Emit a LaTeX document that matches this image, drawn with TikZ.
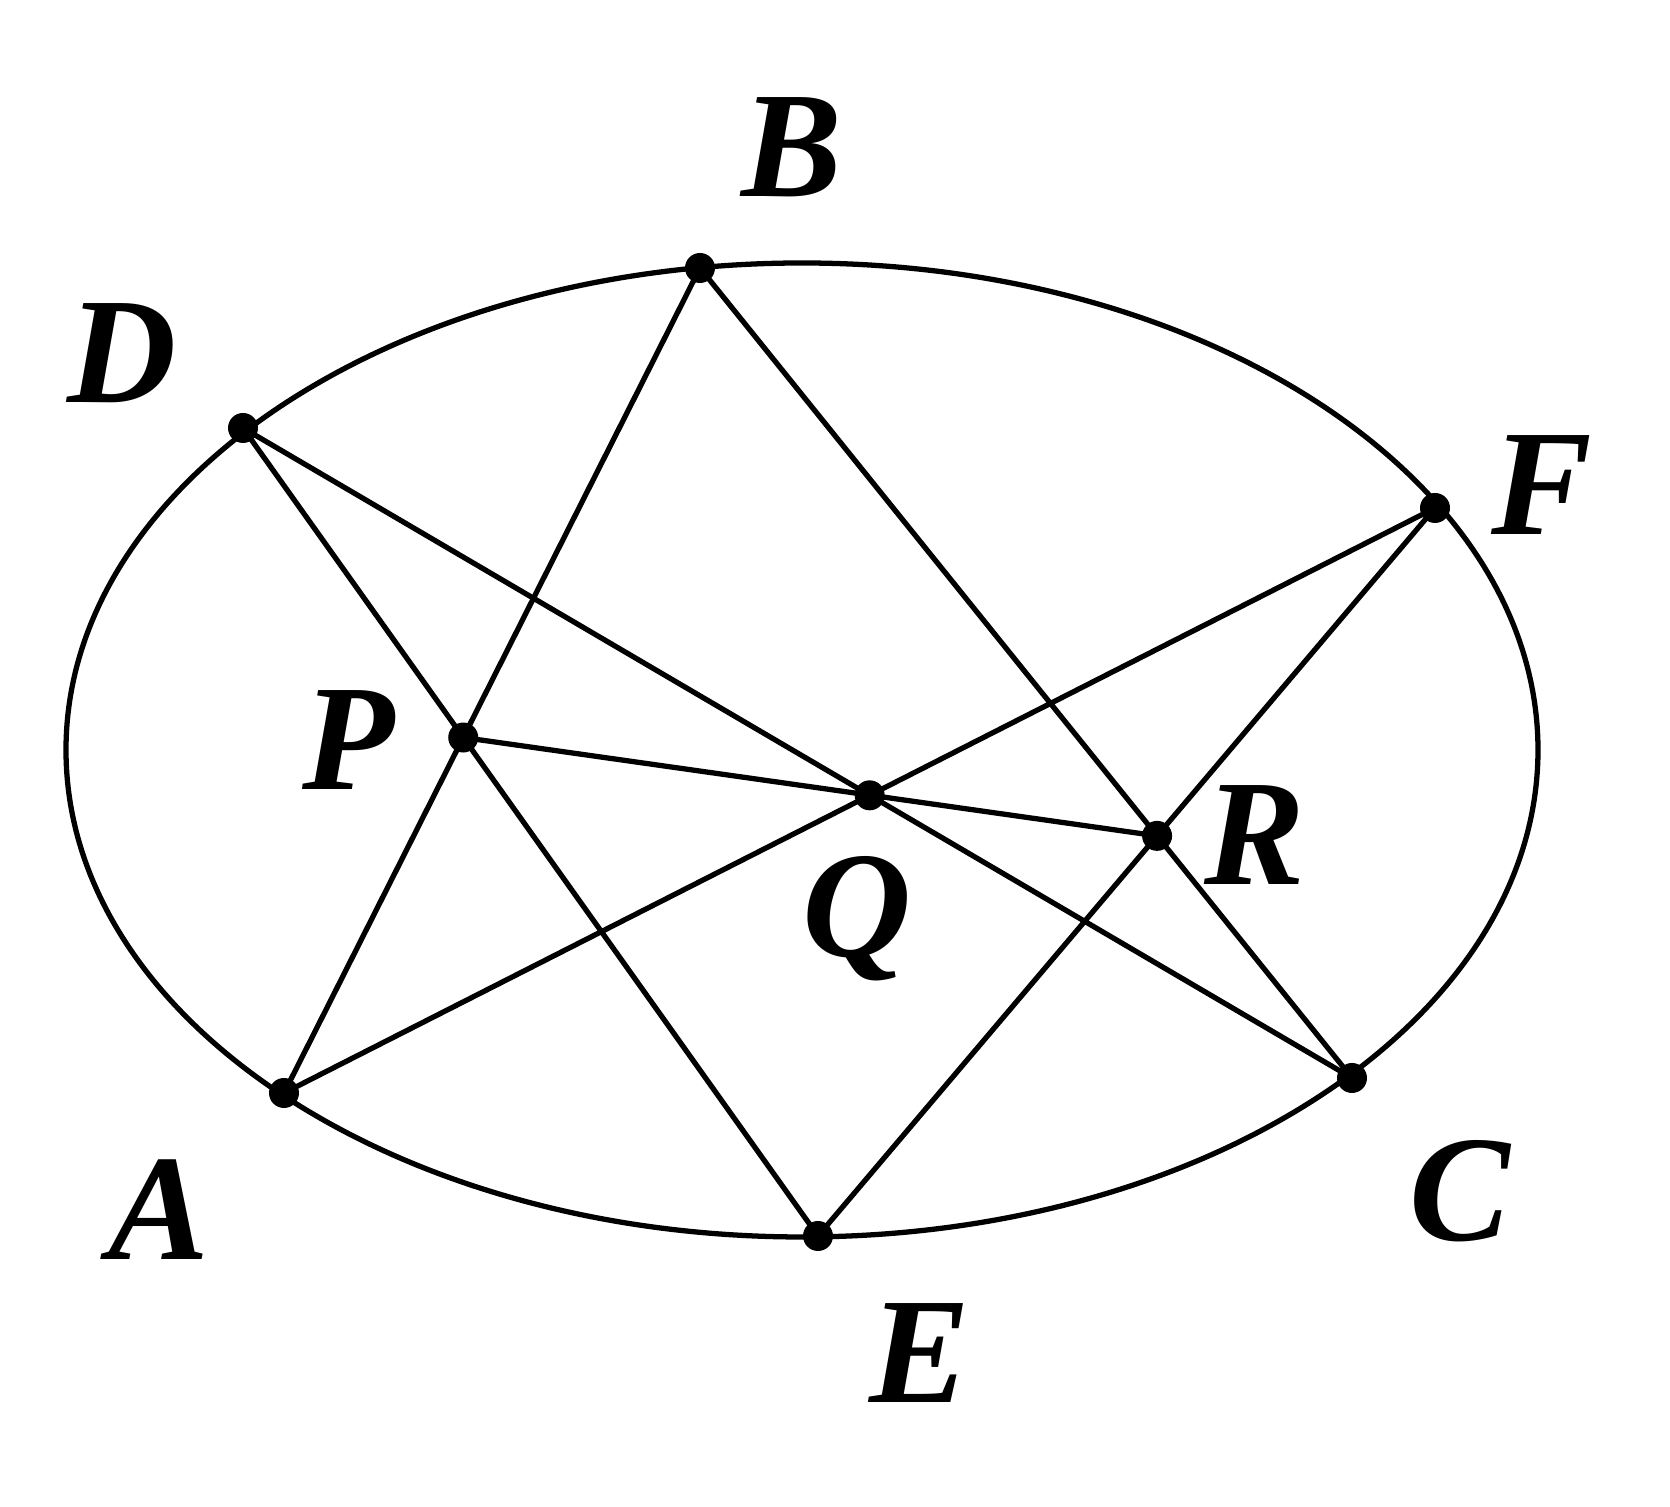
\documentclass[tikz,border=0pt]{standalone}
\usepackage{fontspec}
\setmainfont{Liberation Serif}
\usepackage{tikz}

\tikzset{
    curve/.style={line width=1.5pt},
    chord/.style={line width=1.5pt},
    dot/.style={fill=black},
    lbl/.style={anchor=base, inner sep=0pt, font=\fontsize{43}{43}\selectfont\bfseries\itshape}
}

\begin{document}
\begin{tikzpicture}
            \useasboundingbox (0,0) rectangle (16.70,15.07);
            \draw[curve] (8.02,7.57) ellipse [x radius=7.36, y radius=4.87];

            \coordinate (B) at (7.00,12.39);
            \coordinate (D) at (2.43,10.79);
            \coordinate (F) at (14.35,9.99);
            \coordinate (A) at (2.84,4.14);
            \coordinate (C) at (13.52,4.29);
            \coordinate (E) at (8.18,2.71);
            \coordinate (P) at (intersection of A--B and D--E);
            \coordinate (Q) at (intersection of D--C and A--F);
            \coordinate (R) at (intersection of B--C and E--F);

            \draw[chord] (A) -- (B) -- (C);
            \draw[chord] (D) -- (E) -- (F) -- (A);
            \draw[chord] (D) -- (C);
            \draw[chord] (P) -- (R);

            \foreach \p in {A,B,C,D,E,F,P,Q,R}
                \fill[dot] (\p) circle (0.15);

            \node[lbl] (lB) at (7.92,13.10) {B};
            \node[lbl] (lD) at (1.22,11.04) {D};
            \node[lbl] (lF) at (15.42,9.72) {F};
            \node[lbl] (lP) at (3.49,7.17) {P};
            \node[lbl] (lQ) at (8.57,5.50) {Q};
            \node[lbl] (lR) at (12.55,6.22) {R};
            \node[lbl] (lA) at (1.59,2.47) {A};
            \node[lbl] (lC) at (14.60,2.66) {C};
            \node[lbl] (lE) at (9.20,1.04) {E};
        \end{tikzpicture}
\end{document}
